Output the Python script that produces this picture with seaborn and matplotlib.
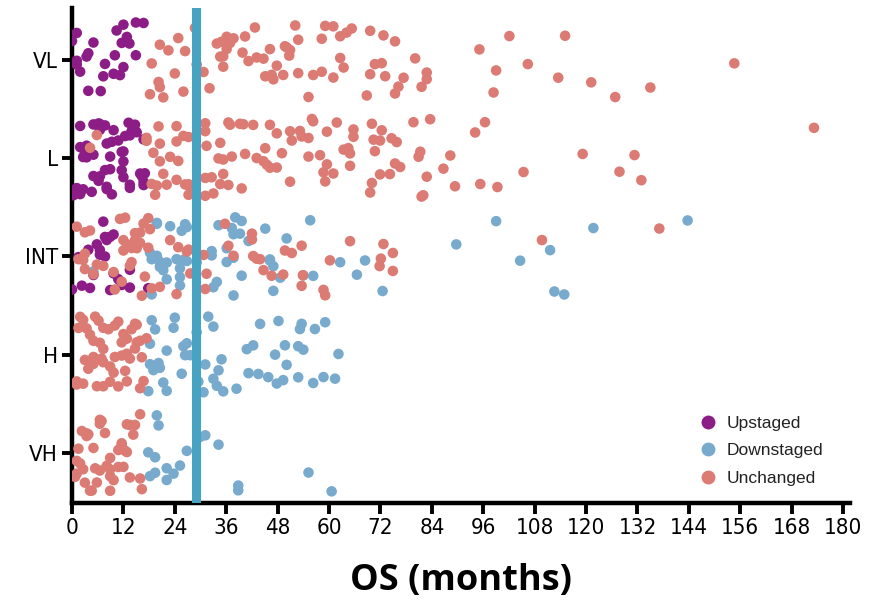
import numpy as np
import pandas as pd
import matplotlib
matplotlib.use("Agg")
import matplotlib.pyplot as plt
import seaborn as sns
from matplotlib.lines import Line2D
from matplotlib.font_manager import FontProperties

categories = ["VL", "L", "INT", "H", "VH"]
hue_levels = ["Upstaged", "Downstaged", "Unchanged"]
x_ticks = list(range(0, 181, 12))
cutoff_month = 29

# OS (months) per risk group and stage change
vl_up = [7.7, 7.3, 13.4, 1.1, 3.8, 6.7, 10.4, 12.8, 12.0, 10.0, 16.7, 3.4, 1.9, 5.0,
         9.7, 12.0, 14.9, 1.1, 0.0, 3.8, 11.6, 11.2, 14.9, 1.1]
vl_un = [18.6, 20.2, 20.5, 24.8, 26.4, 18.2, 21.3, 24.0, 26.0, 20.5, 22.5, 28.7, 30.7,
         29.1, 36.1, 37.7, 39.8, 43.1, 34.9, 33.8, 34.6, 32.1, 35.3, 36.9, 36.1, 35.3,
         36.1, 40.4, 41.2, 42.7, 44.7, 46.2, 45.1, 47.0, 49.3, 46.6, 50.9, 52.8, 50.1,
         47.8, 49.7, 50.7, 52.1, 52.8, 55.2, 58.3, 56.3, 58.3, 61.0, 62.6, 63.4, 59.1,
         61.0, 62.6, 64.1, 65.3, 69.6, 70.7, 72.7, 68.8, 69.6, 72.3, 73.1, 75.4, 75.4,
         76.2, 77.4, 80.1, 81.6, 82.8, 82.8, 98.4, 99.0, 95.1, 106.4, 102.1, 115.1,
         113.5, 121.2, 126.8, 135.0, 154.6]

l_up = [1.9, 3.4, 4.6, 6.2, 2.6, 5.0, 12.4, 13.9, 14.7, 8.1, 8.9, 9.7, 12.0, 13.2, 13.5,
        6.5, 7.7, 8.9, 10.8, 11.6, 1.9, 3.0, 5.0, 6.2, 7.7, 9.3, 12.0, 13.5, 15.1, 16.7,
        17.0, 2.6, 3.4, 6.5, 8.1, 9.3, 12.0, 13.9, 15.9, 16.7, 16.3, 1.9, 5.0, 6.5, 8.1,
        11.6, 13.5, 14.7, 1.1, 16.7, 0.3]
l_un = [4.2, 5.8, 17.4, 18.6, 19.4, 21.3, 22.9, 24.4, 26.4, 27.6, 24.4, 26.0, 27.2, 19.8,
        20.5, 17.4, 19.0, 20.5, 20.2, 22.1, 24.8, 24.4, 27.2, 27.2, 31.1, 31.4, 33.0,
        35.3, 36.5, 36.5, 31.1, 32.6, 34.6, 35.3, 31.1, 31.1, 34.2, 34.6, 36.9, 37.3,
        39.2, 39.6, 40.4, 40.0, 42.3, 44.7, 46.2, 47.8, 49.0, 43.1, 45.5, 46.2, 45.1,
        47.8, 50.9, 51.3, 50.9, 53.2, 53.6, 55.2, 55.2, 56.0, 56.3, 57.9, 59.5, 58.7,
        59.1, 59.5, 61.0, 63.4, 61.8, 64.9, 64.5, 64.9, 65.7, 65.7, 70.0, 70.4, 70.7,
        69.6, 71.9, 72.3, 74.2, 75.4, 76.6, 79.7, 81.3, 83.6, 74.6, 71.9, 70.0, 75.8,
        81.6, 82.0, 80.9, 82.8, 86.7, 88.3, 89.4, 94.1, 95.3, 96.4, 99.3, 105.4, 119.2,
        127.8, 131.3, 132.9, 173.2]

int_up = [1.5, 2.3, 8.9, 9.7, 7.7, 17.8, 5.8, 7.3, 9.7, 3.8, 5.0, 6.5, 7.7, 6.5, 8.1,
          4.2, 13.5, 10.8, 13.5, 8.9, 0.0, 11.6]
int_down = [19.0, 20.5, 22.9, 25.2, 25.6, 24.4, 26.8, 19.8, 21.3, 19.8, 21.3, 22.1, 18.6,
            19.8, 20.5, 22.1, 25.2, 26.0, 26.8, 25.2, 18.2, 18.6, 5.0, 26.4, 32.6, 34.2,
            37.3, 38.1, 39.2, 37.7, 37.7, 36.1, 33.8, 32.6, 33.0, 36.1, 39.6, 46.2, 47.0,
            50.1, 47.0, 48.6, 45.1, 46.2, 37.7, 39.6, 41.2, 54.0, 55.6, 56.3, 62.6, 66.5,
            68.4, 72.5, 89.7, 29.1, 99.0, 104.6, 111.6, 114.9, 112.6, 121.7, 143.7]
int_un = [1.1, 3.0, 5.0, 2.6, 1.5, 3.0, 12.4, 13.9, 16.3, 11.6, 13.9, 15.9, 10.0, 12.0,
          13.5, 14.7, 15.9, 12.8, 15.1, 11.2, 3.0, 4.2, 5.8, 7.3, 9.7, 12.0, 14.7, 17.0,
          17.8, 18.2, 18.6, 17.8, 20.5, 22.9, 24.8, 24.4, 26.8, 27.6, 27.2, 31.1, 31.4,
          30.7, 35.7, 36.5, 37.7, 42.0, 43.9, 42.0, 42.3, 43.1, 44.7, 46.6, 49.3, 49.7,
          51.3, 53.6, 53.6, 53.9, 59.1, 58.7, 60.2, 64.9, 71.8, 74.9, 72.1, 72.7, 74.9,
          16.7, 109.7, 137.1]

h_down = [20.5, 22.1, 23.7, 24.0, 25.6, 26.8, 27.6, 18.6, 19.4, 19.0, 20.2, 21.3, 17.8,
          18.2, 18.2, 22.1, 26.4, 26.0, 30.7, 31.1, 33.0, 34.2, 35.3, 33.8, 34.9, 31.8,
          33.0, 38.4, 41.2, 40.8, 42.3, 43.5, 43.9, 45.8, 47.4, 48.2, 49.3, 52.8, 53.6,
          53.2, 56.3, 56.7, 58.7, 61.4, 59.1, 54.0, 52.8, 62.2, 47.8, 49.7, 50.1, 29.1, 29.5]
h_un = [1.1, 3.0, 5.0, 6.5, 7.3, 10.0, 11.6, 12.8, 15.1, 15.9, 16.7, 13.9, 12.0, 3.4, 5.4,
        7.3, 8.9, 10.8, 12.8, 14.7, 2.6, 5.0, 6.9, 8.9, 10.8, 12.8, 14.7, 16.3, 15.9, 13.5,
        11.6, 9.7, 7.3, 5.0, 2.6, 1.1, 1.9, 3.8, 5.8, 7.3, 10.0, 12.4, 8.5, 4.2, 6.2, 1.5,
        15.1, 17.4]

vh_down = [19.4, 22.1, 23.7, 25.2, 18.2, 20.2, 19.4, 19.8, 17.8, 22.1, 26.8, 29.9, 31.1,
           34.2, 38.8, 38.8, 55.2, 60.6]
vh_un = [1.1, 3.4, 5.0, 6.5, 8.9, 10.8, 12.8, 14.7, 16.3, 2.3, 4.2, 6.5, 8.9, 11.6, 13.5,
         15.9, 1.5, 3.4, 5.4, 8.1, 10.8, 2.6, 4.6, 6.9, 8.9, 12.0, 1.9, 3.8, 5.8, 7.7, 9.7,
         12.4, 13.5, 15.9, 6.5, 8.9, 1.1, 3.0, 0.7, 11.6, 12.8, 14.3]

groups = [
    ("VL", "Upstaged", vl_up), ("VL", "Unchanged", vl_un),
    ("L", "Upstaged", l_up), ("L", "Unchanged", l_un),
    ("INT", "Upstaged", int_up), ("INT", "Downstaged", int_down), ("INT", "Unchanged", int_un),
    ("H", "Downstaged", h_down), ("H", "Unchanged", h_un),
    ("VH", "Downstaged", vh_down), ("VH", "Unchanged", vh_un),
]
rows = []
for cat, stage, vals in groups:
    for v in vals:
        rows.append({"risk": cat, "stage": stage, "os": v})
df = pd.DataFrame(rows)

palette = {"Upstaged": "#8C1C86", "Downstaged": "#78AACD", "Unchanged": "#DB7B74"}

sns.set_style("white")
plt.rcParams["font.family"] = ["DejaVu Sans"]
plt.rcParams["text.color"] = "black"

fig = plt.figure(figsize=(8.74, 6.04), dpi=100)
ax = fig.add_axes([0.0824, 0.167, 0.8901, 0.820])

np.random.seed(3)
sns.stripplot(data=df, x="os", y="risk", hue="stage", order=categories,
              hue_order=hue_levels, palette=palette, jitter=0.4, size=7.6,
              linewidth=0, alpha=1.0, orient="h", ax=ax, legend=False)

ax.axvline(cutoff_month, color="#46A3C1", lw=6.5, zorder=5)

tick_font = FontProperties(family=["DejaVu Sans"], stretch="condensed", size=16)

ax.set_xlim(0, 181.6)
ax.set_ylim(4.51, -0.53)
ax.set_xticks(x_ticks)
ax.set_xticklabels([str(t) for t in x_ticks], fontproperties=tick_font)
ax.set_yticks(range(len(categories)))
ax.set_yticklabels(categories, fontproperties=tick_font)
ax.set_xlabel("OS (months)", fontsize=26, fontweight="bold", labelpad=18,
              family=["Open Sans", "DejaVu Sans"], color="black")
ax.set_ylabel("")

for side in ["top", "right"]:
    ax.spines[side].set_visible(False)
for side in ["left", "bottom"]:
    ax.spines[side].set_linewidth(3.2)
    ax.spines[side].set_color("black")
ax.tick_params(axis="x", length=8, width=2.8, color="black", labelcolor="black",
               pad=3, bottom=True)
ax.tick_params(axis="y", length=7, width=2.8, color="black", labelcolor="black",
               pad=3, left=True)

handles = [Line2D([0], [0], marker="o", linestyle="", markersize=10,
                  markerfacecolor=palette[h], markeredgewidth=0) for h in hue_levels]
leg = fig.legend(handles, hue_levels, loc="upper left", bbox_to_anchor=(0.772, 0.338),
                 frameon=False, handletextpad=0.1, labelspacing=0.72,
                 prop={"family": ["Liberation Sans", "DejaVu Sans"], "size": 12.5})
for t in leg.get_texts():
    t.set_color("#222222")

fig.savefig("out.png", dpi=100)
